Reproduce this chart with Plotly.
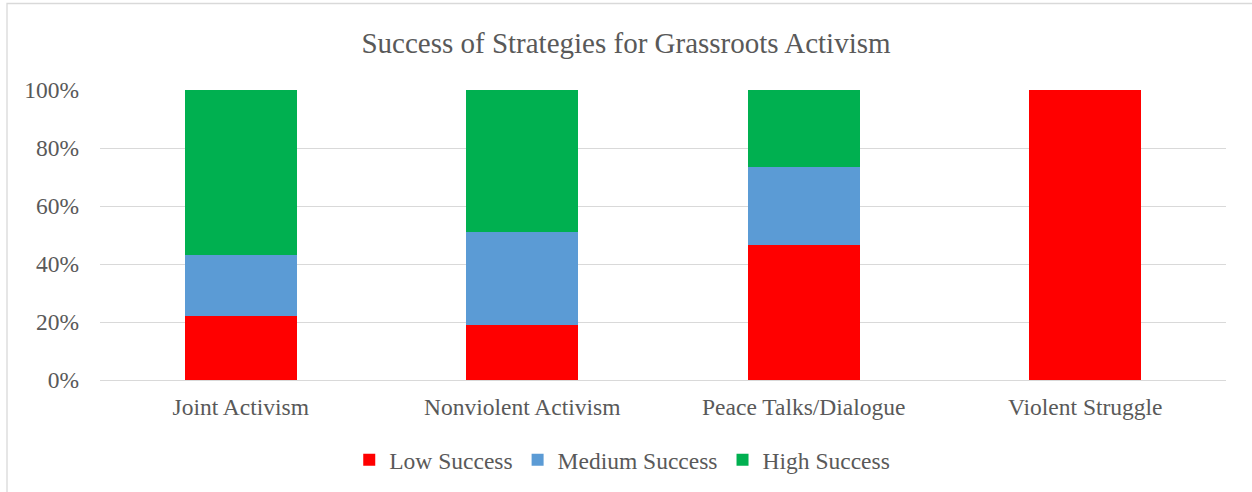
import plotly.graph_objects as go

categories = ["Joint Activism", "Nonviolent Activism", "Peace Talks/Dialogue", "Violent Struggle"]
low_success = [0.219, 0.189, 0.464, 1.0]
medium_success = [0.213, 0.321, 0.271, 0.0]
high_success = [0.568, 0.490, 0.265, 0.0]
y_ticks = [0, 0.2, 0.4, 0.6, 0.8, 1.0]

FONT = "Liberation Serif, Times New Roman, serif"
TEXT = "#595959"
GRID = "#D9D9D9"

fig = go.Figure()
for name, vals, color in [
    ("Low Success", low_success, "#FF0000"),
    ("Medium Success", medium_success, "#5B9BD5"),
    ("High Success", high_success, "#00B050"),
]:
    fig.add_trace(go.Bar(x=categories, y=vals, name=name,
                         marker=dict(color=color, line=dict(width=0))))

W, H = 1252, 492
ml, mr, mt, mb = 100, 26, 90, 112
pw, ph = W - ml - mr, H - mt - mb

# outer chart border (Excel chart area)
fig.add_shape(type="rect", xref="paper", yref="paper",
              x0=(7 - ml) / pw, x1=(W + 20 - ml) / pw,
              y0=-(H + 20 - mt - ph) / ph, y1=(H - mb - 3.5) / ph,
              line=dict(color=GRID, width=1.3), fillcolor="rgba(0,0,0,0)", layer="below")

fig.update_layout(
    width=W, height=H,
    barmode="stack", bargap=0.602,
    paper_bgcolor="white", plot_bgcolor="white",
    margin=dict(l=ml, r=mr, t=mt, b=mb),
    font=dict(family=FONT, color=TEXT, size=23.5),
    title=dict(text="Success of Strategies for Grassroots Activism",
               font=dict(family=FONT, size=29, color=TEXT),
               x=0.5, xref="container", xanchor="center",
               y=1 - 43 / H, yref="container", yanchor="middle"),
    legend=dict(orientation="h", xref="container", x=0.497, xanchor="center",
                yref="container", y=1 - 460 / H, yanchor="middle",
                font=dict(family=FONT, size=23.5, color=TEXT),
                traceorder="normal", itemclick=False),
    showlegend=True,
)
fig.update_yaxes(range=[0, 1], tickvals=y_ticks, tickformat=".0%",
                 showgrid=True, gridcolor=GRID, gridwidth=1.3,
                 zeroline=False, showline=False, ticks="",
                 ticklabelstandoff=20, tickfont=dict(size=23.5, color=TEXT))
fig.update_xaxes(showline=True, linecolor=GRID, linewidth=1.3, ticks="",
                 ticklabelstandoff=6, tickfont=dict(size=23.5, color=TEXT))

fig.write_html("out.html", config={"displayModeBar": False},
               post_script="document.body.style.margin='0';document.body.style.overflow='hidden';")
